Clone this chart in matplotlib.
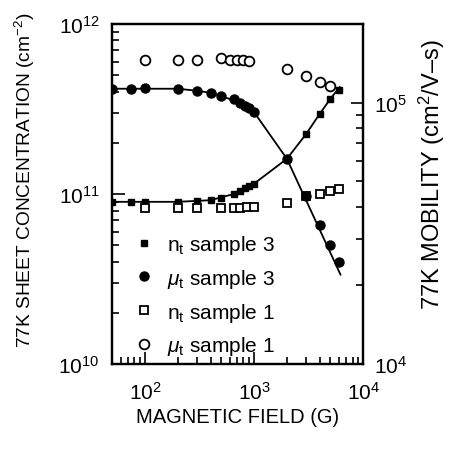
import matplotlib
matplotlib.use("Agg")
import matplotlib.pyplot as plt
from matplotlib import font_manager

# pick a narrow sans if we have one
names = {f.name for f in font_manager.fontManager.ttflist}
fam = "Liberation Sans Narrow" if "Liberation Sans Narrow" in names else "Liberation Sans"
plt.rcParams['font.family'] = [fam, 'DejaVu Sans']
plt.rcParams['mathtext.fontset'] = 'custom'
plt.rcParams['mathtext.rm'] = fam
plt.rcParams['mathtext.it'] = fam + ':italic'
plt.rcParams['mathtext.default'] = 'regular'

# sample 3 (filled)
B3 = [50, 75, 100, 200, 300, 400, 500, 650, 740, 830, 900, 1000, 2000, 3000, 4000, 5000, 6000]
n3 = [9.0e10, 9.0e10, 9.0e10, 9.0e10, 9.1e10, 9.2e10, 9.5e10, 1.0e11, 1.04e11, 1.08e11,
      1.11e11, 1.15e11, 1.61e11, 2.25e11, 2.96e11, 3.62e11, 4.1e11]
mu3 = [1.13e5, 1.13e5, 1.14e5, 1.13e5, 1.11e5, 1.09e5, 1.06e5, 1.03e5, 1.0e5, 9.7e4,
       9.5e4, 9.2e4, 6.1e4, 4.4e4, 3.4e4, 2.85e4, 2.45e4]

# fitted curves for sample 3
fitB_n = [50, 200, 400, 650, 1000, 2000, 3000, 4000, 5000, 6100]
fit_n = [9.0e10, 9.0e10, 9.2e10, 1.0e11, 1.15e11, 1.61e11, 2.25e11, 2.96e11, 3.62e11, 4.25e11]
fitB_mu = [50, 200, 300, 400, 500, 650, 800, 1000, 2000, 6200]
fit_mu = [1.13e5, 1.13e5, 1.11e5, 1.09e5, 1.06e5, 1.02e5, 9.8e4, 9.2e4, 6.1e4, 2.2e4]

# sample 1 (open)
B1 = [100, 200, 300, 500, 650, 750, 870, 1000, 2000, 3000, 4000, 5000, 6000]
n1 = [8.3e10, 8.3e10, 8.3e10, 8.3e10, 8.3e10, 8.3e10, 8.35e10, 8.4e10, 8.9e10, 9.7e10,
      1.0e11, 1.04e11, 1.07e11]
B1mu = [100, 200, 300, 500, 600, 700, 800, 900, 2000, 3000, 4000, 5000]
mu1 = [1.45e5, 1.46e5, 1.46e5, 1.48e5, 1.46e5, 1.46e5, 1.45e5, 1.44e5, 1.34e5, 1.26e5,
       1.2e5, 1.16e5]

fig = plt.figure(figsize=(4.5, 4.52), dpi=100)
ax = fig.add_axes([0.249, 0.192, 0.558, 0.753])
ax2 = ax.twinx()

ax.plot(fitB_n, fit_n, color='black', lw=1.3)
ax2.plot(fitB_mu, fit_mu, color='black', lw=1.3)

h1, = ax.plot(B3, n3, 's', color='black', ms=5, label=r'n$_t$ sample 3')
h3, = ax.plot(B1, n1, 's', mfc='white', mec='black', mew=1.3, ms=6, label=r'n$_t$ sample 1')
h2, = ax2.plot(B3, mu3, 'o', color='black', ms=6.5, label=r'$\mathit{\mu}_t$ sample 3')
h4, = ax2.plot(B1mu, mu1, 'o', mfc='white', mec='black', mew=1.3, ms=7, label=r'$\mathit{\mu}_t$ sample 1')

ax.set_xscale('log')
ax.set_yscale('log')
ax2.set_yscale('log')
ax.set_xlim(50, 1e4)
ax.set_ylim(1e10, 1e12)
ax2.set_ylim(1e4, 2e5)

for a in (ax, ax2):
    for s in a.spines.values():
        s.set_linewidth(1.6)
ax.tick_params(which='both', direction='in', top=False, right=False, labelsize=15, width=1.2)
ax.tick_params(which='major', length=9, pad=9)
ax.tick_params(axis='x', which='major', pad=12)
ax.tick_params(which='minor', length=5)
ax2.tick_params(which='both', direction='in', labelsize=15, width=1.2)
ax2.tick_params(which='major', length=9, pad=8)
ax2.tick_params(which='minor', length=5)

ax.set_xlabel('MAGNETIC FIELD (G)', fontsize=14.5, labelpad=3)
ax.set_ylabel(r'77K SHEET CONCENTRATION (cm$^{-2}$)', fontsize=13.8)
ax2.set_ylabel(r'77K MOBILITY (cm$^2$/V–s)', fontsize=17)
ax.yaxis.set_label_coords(-0.30, 0.545)
ax2.yaxis.set_label_coords(1.215, 0.56)

ax2.legend([h1, h2, h3, h4], [h1.get_label(), h2.get_label(), h3.get_label(), h4.get_label()],
           loc='lower left', bbox_to_anchor=(0.012, -0.035), frameon=False, fontsize=15,
           handlelength=1.0, handletextpad=0.6, labelspacing=0.52)

fig.savefig('out.png', dpi=100)
